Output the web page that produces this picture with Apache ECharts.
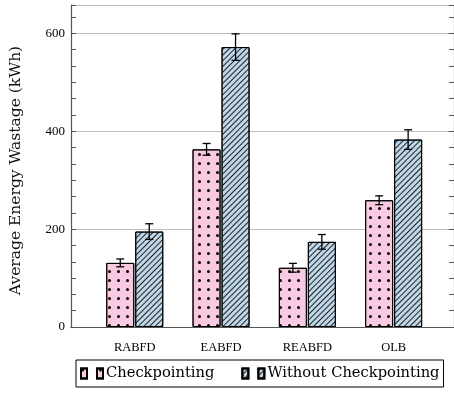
<!DOCTYPE html>
<html>
<head>
<meta charset="utf-8">
<script src="https://cdn.jsdelivr.net/npm/echarts@6/dist/echarts.min.js"></script>
<style>html,body{margin:0;padding:0;background:#fff}#c{width:454px;height:394px}</style>
</head>
<body>
<div id="c"></div>
<script>
var categories = ['RABFD', 'EABFD', 'REABFD', 'OLB'];
var checkpointing = [131, 363, 121, 259];
var checkpointingErr = [8, 12, 9, 9];
var withoutCheckpointing = [195, 572, 174, 383];
var withoutCheckpointingErr = [16, 27, 15, 20];
var yTicks = [0, 200, 400, 600];
var seriesNames = ['Checkpointing', 'Without Checkpointing'];

var YMAX = 658;
var PINK = '#f9c9e1';
var BLUE = '#bed7e9';

var dotDecal = {
  symbol: 'circle', symbolSize: 1, color: '#000',
  dashArrayX: [2.8, 6], dashArrayY: [2.8, 5.2]
};
var hatchDecal = {
  symbol: 'rect', symbolSize: 1, color: '#222',
  dashArrayX: [1, 0], dashArrayY: [1, 3], rotation: -Math.PI / 4
};

function errData(vals, errs) {
  return vals.map(function (v, i) { return [i, v, errs[i]]; });
}
function errRender(offset) {
  return function (params, api) {
    var i = api.value(0), v = api.value(1), e = api.value(2);
    var c = api.coord([i, v]);
    var x = c[0] + offset;
    var yt = api.coord([i, v + e])[1];
    var yb = api.coord([i, v - e])[1];
    var st = { stroke: '#000', lineWidth: 1.3 };
    return {
      type: 'group',
      children: [
        { type: 'line', shape: { x1: x, y1: yt, x2: x, y2: yb }, style: st },
        { type: 'line', shape: { x1: x - 4, y1: yt, x2: x + 4, y2: yt }, style: st },
        { type: 'line', shape: { x1: x - 4, y1: yb, x2: x + 4, y2: yb }, style: st }
      ]
    };
  };
}

var chart = echarts.init(document.getElementById('c'), null, { renderer: 'canvas' });
var frameLine = { show: true, lineStyle: { color: '#555', width: 1.2 } };
var option = {
  animation: false,
  backgroundColor: '#fff',
  grid: [
    { left: 70, right: -2, top: 5, bottom: 67 },
    { left: 91.6, right: 17.2, top: 5, bottom: 67 }
  ],
  legend: {
    left: 76, top: 360,
    data: seriesNames,
    orient: 'horizontal',
    borderColor: '#000', borderWidth: 1,
    padding: [6, 4, 6, 4],
    itemWidth: 22, itemHeight: 10, itemGap: 27,
    icon: 'path://M0,0h6v10h-6z M16,0h6v10h-6z',
    textStyle: { fontFamily: 'DejaVu Serif', fontSize: 14.7, color: '#000', padding: [0, 0, 0, -2] }
  },
  xAxis: [
    { gridIndex: 0, type: 'value', min: 0, max: 1, position: 'bottom',
      axisLine: frameLine, axisTick: { show: false }, axisLabel: { show: false }, splitLine: { show: false } },
    { gridIndex: 0, type: 'value', min: 0, max: 1, position: 'top',
      axisLine: frameLine, axisTick: { show: false }, axisLabel: { show: false }, splitLine: { show: false } },
    { gridIndex: 1, type: 'category', data: categories, position: 'bottom',
      axisLine: { show: false }, axisTick: { show: false }, splitLine: { show: false },
      axisLabel: { margin: 14, color: '#000', fontFamily: 'Liberation Serif', fontSize: 12.5 } }
  ],
  yAxis: [
    { gridIndex: 0, type: 'value', min: 0, max: YMAX, interval: 200, position: 'left',
      axisLine: frameLine, axisTick: { show: false },
      axisLabel: { margin: 6, color: '#000', fontFamily: 'Liberation Serif', fontSize: 13, showMaxLabel: false,
        formatter: function (v) { return yTicks.indexOf(v) >= 0 ? String(v) : ''; } },
      splitLine: { show: true, lineStyle: { color: '#bdbdbd', width: 1 } },
      name: 'Average Energy Wastage (kWh)', nameLocation: 'middle', nameRotate: 90, nameGap: 47,
      nameTextStyle: { fontFamily: 'DejaVu Serif', fontSize: 15.5, color: '#111', padding: [0, 0, 0, -9] } },
    { gridIndex: 0, type: 'value', min: 0, max: YMAX, interval: 200 / 6, position: 'left',
      axisLine: { show: false }, axisLabel: { show: false }, splitLine: { show: false },
      axisTick: { show: true, inside: true, length: 5, lineStyle: { color: '#555', width: 1 } } },
    { gridIndex: 0, type: 'value', min: 0, max: YMAX, interval: 200 / 6, position: 'right',
      axisLine: frameLine, axisLabel: { show: false }, splitLine: { show: false },
      axisTick: { show: true, inside: true, length: 5, lineStyle: { color: '#555', width: 1 } } },
    { gridIndex: 1, type: 'value', min: 0, max: YMAX, show: false }
  ],
  series: [
    { name: seriesNames[0], type: 'bar', xAxisIndex: 2, yAxisIndex: 3, data: checkpointing,
      barWidth: 28, barGap: '3.6%',
      itemStyle: { color: PINK, borderColor: '#000', borderWidth: 1, decal: dotDecal } },
    { name: seriesNames[1], type: 'bar', xAxisIndex: 2, yAxisIndex: 3, data: withoutCheckpointing,
      barWidth: 28,
      itemStyle: { color: BLUE, borderColor: '#000', borderWidth: 1, decal: hatchDecal } },
    { type: 'custom', xAxisIndex: 2, yAxisIndex: 3, z: 10, silent: true,
      data: errData(checkpointing, checkpointingErr), renderItem: errRender(-14.5) },
    { type: 'custom', xAxisIndex: 2, yAxisIndex: 3, z: 10, silent: true,
      data: errData(withoutCheckpointing, withoutCheckpointingErr), renderItem: errRender(14.5) }
  ]
};
chart.setOption(option);
</script>
</body>
</html>
